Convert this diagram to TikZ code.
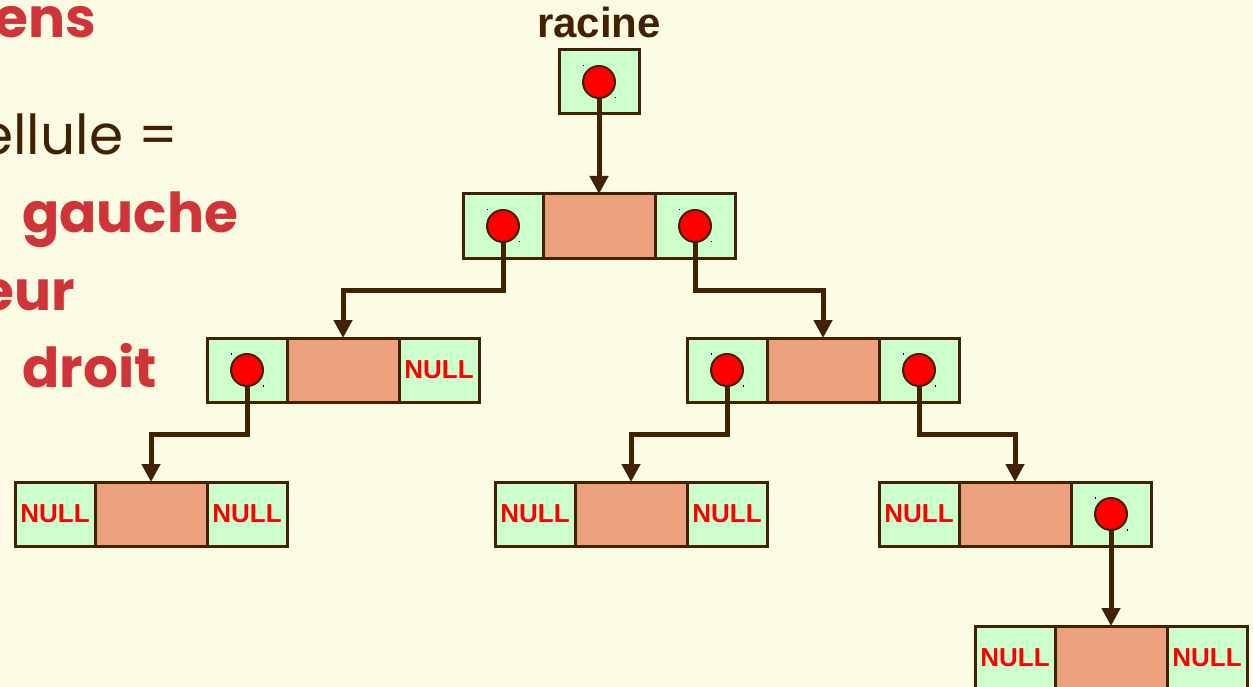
\documentclass[tikz,border=0pt]{standalone}
\usepackage{fontspec}
\setmainfont{Liberation Sans}
\newfontfamily\handfont{Poppins}
\usetikzlibrary{arrows.meta}
\definecolor{bgcream}{RGB}{251,250,226}
\definecolor{linebrown}{RGB}{66,33,0}
\definecolor{cellgreen}{RGB}{204,255,204}
\definecolor{cellsalmon}{RGB}{234,161,124}
\definecolor{nullred}{RGB}{255,0,0}
\definecolor{titlered}{RGB}{207,52,56}
\begin{document}
\begin{tikzpicture}[x=1pt,y=-1pt,
  cell/.style={draw=linebrown,line width=3pt,minimum height=64pt,inner sep=0pt,outer sep=0pt},
  ptrcell/.style={cell,fill=cellgreen,minimum width=80pt},
  valcell/.style={cell,fill=cellsalmon,minimum width=112pt},
  nullcell/.style={ptrcell,font=\bfseries\fontsize{26}{26}\selectfont,text=nullred},
  ptrdot/.style={circle,draw=linebrown,line width=2pt,fill=nullred,minimum size=32pt,inner sep=0pt},
  link/.style={draw=linebrown,line width=5pt,-{Triangle[width=18pt,length=18pt]}},
  bigword/.style={inner sep=0pt,font=\handfont\bfseries\fontsize{55}{55}\selectfont,text=titlered},
  plainword/.style={inner sep=0pt,font=\handfont\fontsize{55}{55}\selectfont,text=linebrown}
]
\useasboundingbox (0,0) rectangle (1253,687);
\fill[bgcream] (0,0) rectangle (1253,687);
\clip (0,0) rectangle (1253,687);

% description of a cell, on the left
\node[bigword,anchor=base east] (wliens) at (96,38) {ens};
\node[plainword,anchor=base east] (wcell) at (178,155) {ellule =};
\node[bigword,anchor=base west] (wgauche) at (22,233) {gauche};
\node[bigword,anchor=base east] (wval) at (75,310) {eur};
\node[bigword,anchor=base west] (wdroit) at (22,387) {droit};

% root pointer
\node[anchor=base,inner sep=0pt,font=\bfseries\fontsize{42}{42}\selectfont,text=linebrown] (lroot) at (599,38) {racine};
\node[ptrcell] (c0) at (599,82) {};
\node[ptrdot] (p0) at (c0) {};

% level 1
\node[ptrcell] (c1l) at (503,226) {};
\node[valcell] (v1) at (599,226) {};
\node[ptrcell] (c1r) at (695,226) {};
\node[ptrdot] (p1l) at (c1l) {};
\node[ptrdot] (p1r) at (c1r) {};

% level 2
\node[ptrcell] (c2a) at (247,370) {};
\node[valcell] (v2l) at (343,370) {};
\node[nullcell] (n2a) at (439,370) {NULL};
\node[ptrdot] (p2l) at (c2a) {};

\node[ptrcell] (c2b) at (727,370) {};
\node[valcell] (v2r) at (823,370) {};
\node[ptrcell] (c2c) at (919,370) {};
\node[ptrdot] (p2rl) at (c2b) {};
\node[ptrdot] (p2rr) at (c2c) {};

% level 3
\node[nullcell] (n3a) at (55,514) {NULL};
\node[valcell] (v3a) at (151,514) {};
\node[nullcell] (n3b) at (247,514) {NULL};

\node[nullcell] (n3c) at (535,514) {NULL};
\node[valcell] (v3b) at (631,514) {};
\node[nullcell] (n3d) at (727,514) {NULL};

\node[nullcell] (n3e) at (919,514) {NULL};
\node[valcell] (v3c) at (1015,514) {};
\node[ptrcell] (c3c) at (1111,514) {};
\node[ptrdot] (p3c) at (c3c) {};

% level 4
\node[nullcell] (n4a) at (1015,658) {NULL};
\node[valcell] (v4) at (1111,658) {};
\node[nullcell] (n4b) at (1207,658) {NULL};

% tiny marks at the corners of each pointer dot
\foreach \p in {p0,p1l,p1r,p2l,p2rl,p2rr,p3c}{
  \fill[black] (\p.center) ++(-16.5,-17) rectangle ++(1,1.5);
  \fill[black] (\p.center) ++(15.5,15) rectangle ++(1,1.5);
}

% links
\coordinate (lane1) at (0,290);
\coordinate (lane2) at (0,434);
\draw[link] (p0.south) -- (v1.north);
\draw[link] (p1l.south) -- (p1l.south |- lane1) -| (v2l.north);
\draw[link] (p1r.south) -- (p1r.south |- lane1) -| (v2r.north);
\draw[link] (p2l.south) -- (p2l.south |- lane2) -| (v3a.north);
\draw[link] (p2rl.south) -- (p2rl.south |- lane2) -| (v3b.north);
\draw[link] (p2rr.south) -- (p2rr.south |- lane2) -| (v3c.north);
\draw[link] (p3c.south) -- (v4.north);
\end{tikzpicture}
\end{document}
